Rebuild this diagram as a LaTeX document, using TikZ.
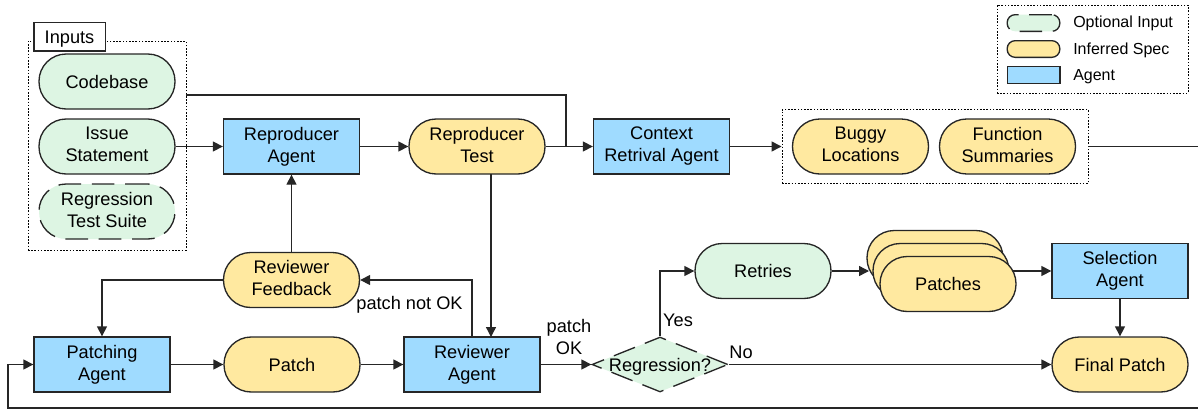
\documentclass[tikz,border=0pt]{standalone}
\usepackage{fontspec}
\setmainfont{Liberation Sans}
\usetikzlibrary{arrows.meta,shapes.geometric}
\definecolor{cgreen}{HTML}{DDF5E3}
\definecolor{cyellow}{HTML}{FFE9A0}
\definecolor{cblue}{HTML}{9FDBFF}
\newcommand{\vstrutmain}{\rule[-3pt]{0pt}{15.8pt}}
\newcommand{\vstruttall}{\rule[-3pt]{0pt}{18.3pt}}
\newcommand{\vstrutleg}{\rule[-3pt]{0pt}{14.6pt}}
\tikzset{
  struts/.style={execute at begin node=\vstrutmain,execute at end node=\vstrutmain},
  twoline/.style={execute at begin node=\vstruttall,font=\fontsize{13.65}{16.5}\selectfont},
  base/.style={draw=black!85,line width=1pt,inner sep=0pt,align=center,minimum width=102pt,minimum height=41.25pt,font=\fontsize{13.65}{17}\selectfont,struts},
  pill/.style={base,rounded corners=20.4pt},
  green/.style={pill,fill=cgreen},
  yellow/.style={pill,fill=cyellow},
  optional/.style={pill,fill=cgreen,dash pattern=on 17pt off 8pt},
  agent/.style={base,fill=cblue,rounded corners=0pt},
  dotbox/.style={draw=black,line width=0.7pt,dash pattern=on 1.2pt off 1.2pt,inner sep=0pt},
  link/.style={draw=black!85,line width=1pt,-{Triangle[length=7.5pt,width=7.5pt]}},
  plain/.style={draw=black!85,line width=1pt},
  lbl/.style={inner sep=0pt,align=center,font=\fontsize{13.65}{17}\selectfont,struts},
  leg/.style={inner sep=0pt,anchor=west,font=\fontsize{12}{14}\selectfont,execute at begin node=\vstrutleg},
  swatch/.style={line width=1pt,draw=black!85,inner sep=0pt,minimum width=39.5pt,minimum height=12.5pt},
}
\begin{document}
\begin{tikzpicture}[x=0.75pt,y=-0.75pt]
\useasboundingbox (0,0) rectangle (1198,414);
% group frames
\node[dotbox,minimum width=118.5pt,minimum height=156.75pt] (inputs) at (107,145.5) {};
\node[draw=black!85,line width=1pt,fill=white,inner sep=0pt,minimum width=53.5pt,minimum height=21.5pt,font=\fontsize{13.65}{17}\selectfont,struts] (inlabel) at (69.5,36.5) {Inputs};
\node[dotbox,minimum width=229.5pt,minimum height=55.5pt] (outputs) at (935,146.5) {};
\node[dotbox,minimum width=143.25pt,minimum height=66pt] (legend) at (1092.5,49) {};
% inputs
\node[green] (code) at (107,81.5) {Codebase};
\node[green,twoline] (issue) at (107,146.5) {Issue\\Statement};
\node[optional,twoline] (suite) at (107,211.5) {Regression\\Test Suite};
% row one
\node[agent,twoline] (repa) at (291.5,146.5) {Reproducer\\Agent};
\node[yellow,twoline] (rept) at (477,146.5) {Reproducer\\Test};
\node[agent,twoline] (ctx) at (661.5,146.5) {Context\\Retrival Agent};
\node[yellow,twoline] (buggy) at (860.5,146.5) {Buggy\\Locations};
\node[yellow,twoline] (func) at (1007.5,146.5) {Function\\Summaries};
% bottom row
\node[yellow,twoline] (fb) at (291.5,280) {Reviewer\\Feedback};
\node[agent,twoline] (pa) at (102,364.5) {Patching\\Agent};
\node[yellow] (patch) at (292,364.5) {Patch};
\node[agent,twoline] (ra) at (472,364.5) {Reviewer\\Agent};
\node[diamond,draw=black!85,fill=cgreen,line width=1pt,dash pattern=on 17pt off 8pt,inner sep=0pt,minimum width=102pt,minimum height=41.25pt,aspect=2.47,font=\fontsize{13.65}{17}\selectfont] (reg) at (660,364.5) {\makebox[0pt][c]{\vstrutmain Regression?}};
\node[green] (retry) at (763,271) {Retries};
\node[yellow] (pback) at (935,258) {};
\node[yellow] (pmid) at (941,271) {};
\node[agent,twoline] (sel) at (1120,271) {Selection\\Agent};
\path[link] (pmid.east) -- (sel.west);
\node[yellow] (pfront) at (948,284) {Patches};
\node[yellow] (final) at (1120,364.5) {Final Patch};
% free ends
\coordinate (codeout) at (inputs.east |- 0,95);
\coordinate (join) at (566,146.5);
\coordinate (outend) at (1198,146.5);
\coordinate (pin) at (869,271);
\coordinate (loopa) at (1198,408);
\coordinate (loopb) at (8,408);
\coordinate (loopc) at (8,364.5);
\coordinate (fbdown) at (pa.north |- fb.west);
\coordinate (racorner) at (ra.north |- fb.east);
\coordinate (tin) at (491,337);
\coordinate (tout) at (491,174);
\coordinate (regup) at (reg.north |- retry.west);
% connectors
\path[plain] (codeout) -| (join);
\path[link] (issue.east) -- (repa.west);
\path[link] (repa.east) -- (rept.west);
\path[link] (rept.east) -- (ctx.west);
\path[link] (ctx.east) -- (outputs.west);
\path[plain] (outputs.east) -- (outend);
\path[link] (fb.north) -- (repa.south);
\path[link] (tout) -- (tin);
\path[link] (fb.west) -- (fbdown) -- (pa.north);
\path[link] (ra.north) -- (racorner) -- (fb.east);
\path[link] (pa.east) -- (patch.west);
\path[link] (patch.east) -- (ra.west);
\path[link] (ra.east) -- (reg.west);
\path[link] (reg.north) -- (regup) -- (retry.west);
\path[link] (retry.east) -- (pin);
\path[link] (sel.south) -- (final.north);
\path[link] (reg.east) -- (final.west);
\path[link] (loopa) -- (loopb) -- (loopc) -- (pa.west);
% labels
\node[lbl] (notok) at (409.5,302.5) {patch not OK};
\node[lbl,twoline] (ok) at (569,339) {patch\\OK};
\node[lbl] (yes) at (678,320) {Yes};
\node[lbl] (no) at (741,352) {No};
% legend
\node[swatch,fill=cgreen,rounded corners=6pt,dash pattern=on 17pt off 8pt] (s1) at (1033.5,23) {};
\node[swatch,fill=cyellow,rounded corners=6pt] (s2) at (1033.5,49) {};
\node[swatch,fill=cblue] (s3) at (1033.5,75) {};
\node[leg] (t1) at (1073,22) {Optional Input};
\node[leg] (t2) at (1073,49) {Inferred Spec};
\node[leg] (t3) at (1073,75) {Agent};
\end{tikzpicture}
\end{document}
